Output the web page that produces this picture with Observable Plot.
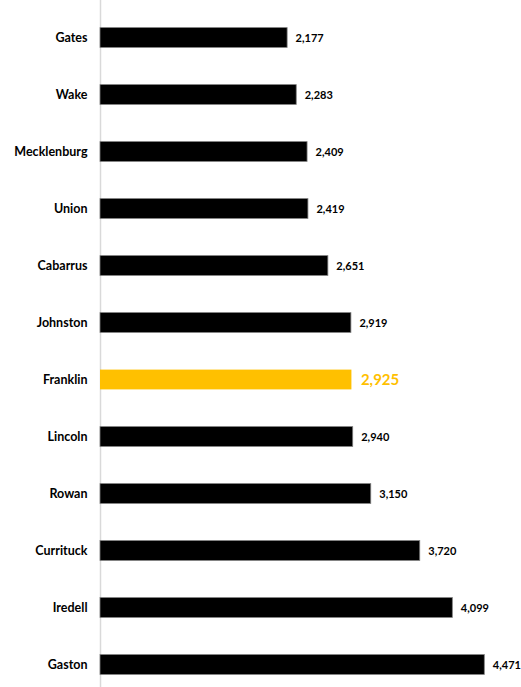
<!DOCTYPE html>
<html><head><meta charset="utf-8">
<script src="https://cdn.jsdelivr.net/npm/d3@7"></script>
<script src="https://cdn.jsdelivr.net/npm/@observablehq/plot@0.6"></script>
<style>html,body{margin:0;background:#fff;overflow:hidden;} #chart svg{display:block}</style>
</head><body><div id="chart"></div>
<script>
const counties = ["Gates","Wake","Mecklenburg","Union","Cabarrus","Johnston","Franklin","Lincoln","Rowan","Currituck","Iredell","Gaston"];
const values = [2177,2283,2409,2419,2651,2919,2925,2940,3150,3720,4099,4471];
const highlight = "Franklin";
const data = counties.map((c,i)=>({county:c, value:values[i], hi:c===highlight}));
const font = "Lato, 'Open Sans', sans-serif";
const chart = Plot.plot({
  width: 521, height: 687,
  marginLeft: 100, marginRight: 37, marginTop: 0, marginBottom: 0,
  style: {fontFamily: font, background: "#fff"},
  x: {domain: [0, 4471], range: [100, 484.3], axis: null},
  y: {domain: counties, range: [7.4, 693.6], padding: 0},
  marks: [
    Plot.ruleX([0], {stroke: "#d9d9d9", strokeWidth: 1.5}),
    Plot.barX(data, {y: "county", x: "value", insetTop: 18.6, insetBottom: 18.6,
      fill: d => d.hi ? "#FFC000" : "#000", stroke: d => d.hi ? "none" : "#7f7f7f", strokeWidth: 0.8}),
    Plot.text(data.filter(d=>!d.hi), {y: "county", x: "value", text: d => d3.format(",")(d.value),
      textAnchor: "start", dx: 8, fontWeight: "bold", fontSize: 11, fill: "#000"}),
    Plot.text(data.filter(d=>d.hi), {y: "county", x: "value", text: d => d3.format(",")(d.value),
      textAnchor: "start", dx: 9, fontWeight: "bold", fontSize: 15, fill: "#FFC000"}),
    Plot.axisY({tickSize: 0, tickPadding: 13, label: null, fontWeight: "bold", fontSize: 12.5, color: "#000"})
  ]
});
document.getElementById("chart").append(chart);
</script></body></html>
